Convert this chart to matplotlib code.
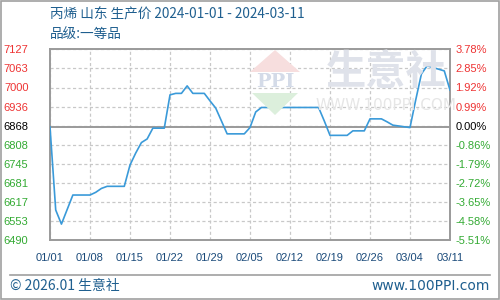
import matplotlib
matplotlib.use("Agg")
import matplotlib.pyplot as plt
from matplotlib.patches import Rectangle, Polygon
from matplotlib.lines import Line2D
import numpy as np
import pandas as pd

plt.rcParams['font.family'] = ['Noto Sans CJK SC', 'DejaVu Sans']

# ---- data ----
dates = ["2024-01-01", "2024-01-02", "2024-01-03", "2024-01-05", "2024-01-08",
         "2024-01-09", "2024-01-10", "2024-01-11", "2024-01-14", "2024-01-15",
         "2024-01-16", "2024-01-17", "2024-01-18", "2024-01-19", "2024-01-21",
         "2024-01-22", "2024-01-23", "2024-01-24", "2024-01-25", "2024-01-26",
         "2024-01-28", "2024-01-29", "2024-01-30", "2024-01-31", "2024-02-01",
         "2024-02-04", "2024-02-05", "2024-02-06", "2024-02-07", "2024-02-17",
         "2024-02-18", "2024-02-19", "2024-02-22", "2024-02-23", "2024-02-25",
         "2024-02-26", "2024-02-28", "2024-02-29", "2024-03-01", "2024-03-04",
         "2024-03-05", "2024-03-06", "2024-03-07", "2024-03-10", "2024-03-11"]
prices = [6868, 6591, 6544, 6641, 6641,
          6650, 6663, 6670, 6670, 6741,
          6781, 6816, 6828, 6864, 6864,
          6975, 6980, 6980, 7005, 6980,
          6980, 6955, 6931, 6888, 6845,
          6845, 6866, 6918, 6933, 6933,
          6888, 6840, 6840, 6855, 6855,
          6895, 6895, 6885, 6874, 6866,
          6958, 7045, 7072, 7055, 6991]
prices = prices[:44] + [7055, 6991]
dates = dates[:44] + ["2024-03-10", "2024-03-11"]
base_price = 6868
y_tick_labels = ["6490", "6553", "6617", "6681", "6745", "6808", "6868",
                 "6936", "7000", "7063", "7127"]
pct_tick_labels = ["-5.51%", "-4.58%", "-3.65%", "-2.72%", "-1.79%", "-0.86%",
                   "0.00%", "0.99%", "1.92%", "2.85%", "3.78%"]
x_tick_labels = ["01/01", "01/08", "01/15", "01/22", "01/29", "02/05",
                 "02/12", "02/19", "02/26", "03/04", "03/11"]
title = "丙烯 山东 生产价 2024-01-01 - 2024-03-11"
subtitle = "品级:一等品"

# ---- figure ----
W, H = 500, 300
fig = plt.figure(figsize=(5, 3), dpi=100)
fig.patch.set_facecolor("white")

ax = fig.add_axes([50 / W, 1 - 240.3 / H, 400 / W, (240.3 - 49.3) / H])
ax.set_facecolor("none")

x = pd.to_datetime(dates)
ymin, ymax = 6490, 7127
ax.set_ylim(ymin, ymax)
start = pd.Timestamp("2024-01-01")
end = pd.Timestamp("2024-03-11")
ax.set_xlim(start, end)

yt = np.linspace(ymin, ymax, 11)
ax.set_yticks(yt)
ax.set_yticklabels(y_tick_labels)
xt = pd.date_range(start, end, freq="7D")
ax.set_xticks(xt)
ax.set_xticklabels(x_tick_labels)

grid_col = "#c8c8c8"
ax.grid(True, color=grid_col, linestyle=(0, (2.5, 2)), linewidth=0.9)
ax.axhline(base_price, color="#9a9a9a", linewidth=1.4, zorder=2)

for s in ax.spines.values():
    s.set_color("#9a9a9a")
    s.set_linewidth(1.4)

red = "#ee3333"
green = "#33aa33"
def col(i):
    if i > 6:
        return red
    if i == 6:
        return "black"
    return green

tick_font = ["Liberation Sans", "DejaVu Sans"]
ax.tick_params(axis="y", length=0, pad=15.5, labelsize=8)
ax.tick_params(axis="x", length=0, pad=9, labelsize=8, colors="#1a4a7a")
for i, lab in enumerate(ax.get_yticklabels()):
    lab.set_color(col(i))
    lab.set_family(tick_font)
for lab in ax.get_xticklabels():
    lab.set_family(tick_font)

ax2 = ax.twinx()
ax2.set_ylim(ymin, ymax)
ax2.set_yticks(yt)
ax2.set_yticklabels(pct_tick_labels)
ax2.tick_params(axis="y", length=0, pad=4, labelsize=8)
for i, lab in enumerate(ax2.get_yticklabels()):
    lab.set_color(col(i))
    lab.set_family(tick_font)
for s in ax2.spines.values():
    s.set_visible(False)

# watermark
def fx(px):
    return px / W
def fy(py):
    return 1 - py / H
fig.patches.append(Polygon([(fx(275), fy(50)), (fx(250), fy(72)), (fx(300), fy(72))],
                           closed=True, transform=fig.transFigure, facecolor="#f7dede",
                           edgecolor="none", zorder=0))
fig.patches.append(Polygon([(fx(252), fy(93)), (fx(298), fy(93)), (fx(275), fy(115))],
                           closed=True, transform=fig.transFigure, facecolor="#dcefdc",
                           edgecolor="none", zorder=0))
fig.text(fx(275), fy(82), "PPI", ha="center", va="center", fontsize=14,
         fontweight="bold", color="#d4dbe8", family=["DejaVu Serif"], zorder=0)
fig.text(fx(386), fy(72), "生意社", ha="center", va="center", fontsize=29,
         fontweight="bold", color="#dfe2ea", zorder=0)
fig.text(fx(386), fy(106), "WWW.100PPI.COM", ha="center", va="center", fontsize=11,
         color="#e6e6e6", family=["DejaVu Sans"], zorder=0)

ax.plot(x, prices, color="#3a9ad9", linewidth=1.2, zorder=3)

# titles
title_col = "#1f5f8f"
fig.text(fx(50), fy(15), title, ha="left", va="center", fontsize=9.8, color=title_col)
fig.text(fx(50), fy(34), subtitle, ha="left", va="center", fontsize=9.8, color=title_col)

# footer
fig.add_artist(Line2D([fx(10), fx(490)], [fy(275), fy(275)], color="#a0a0a0",
                      linewidth=1.2, transform=fig.transFigure))
fig.text(fx(10), fy(286), "© 2026.01 生意社", ha="left", va="center", fontsize=10,
         color="#1f5f8f")
fig.text(fx(490), fy(286), "www.100PPI.com", ha="right", va="center", fontsize=10,
         color="#1f5f8f", family=["DejaVu Sans"])

# outer frame
fig.patches.append(Rectangle((0.001, 0.002), 0.997, 0.995, transform=fig.transFigure,
                             fill=False, edgecolor="#a0a0a0", linewidth=1.2))

fig.savefig("out.png", dpi=100, facecolor="white")
